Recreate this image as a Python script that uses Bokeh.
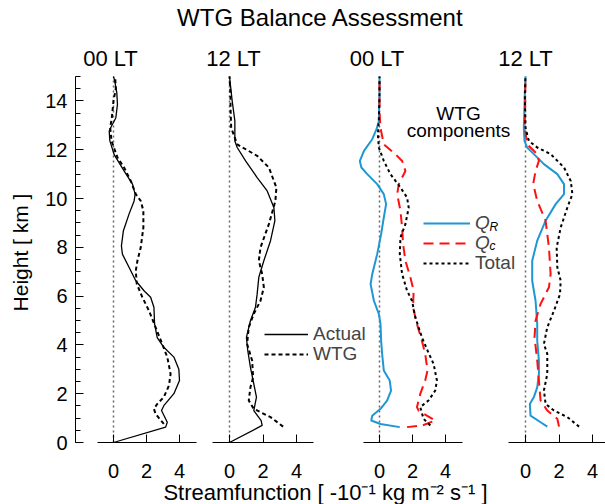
from bokeh.plotting import figure
from bokeh.models import (Range1d, LinearAxis, FixedTicker, SingleIntervalTicker,
                          Label, Legend, LegendItem)
from bokeh.embed import file_html
from bokeh.resources import INLINE

FONT = "Liberation Sans"

# ---------------- data (streamfunction, -10^-1 kg m^-2 s^-1 ; height km) -------------
p1_actual_x = [0, 3.16, 3.26, 2.91, 3.05, 3.66, 4.0, 3.96, 3.66, 3.05, 2.65, 2.49, 2.45, 2.25, 1.85, 1.35,
               0.94, 0.54, 0.48, 0.60, 0.94, 1.25, 1.31, 1.15, 0.64, 0.04, -0.22, -0.26, -0.12, 0.14,
               0.24, 0.2, 0.08, 0]
p1_actual_y = [0, 0.63, 0.83, 1.31, 1.51, 2.0, 2.54, 3.0, 3.5, 3.9, 4.3, 4.86, 5.54, 5.95, 6.22, 6.63,
               7.18, 7.72, 8.06, 8.68, 9.36, 9.9, 10.18, 10.59, 11.13, 11.8, 12.36, 12.77, 12.97, 13.3,
               13.86, 14.34, 14.8, 15]
p1_wtg_x = [3.05, 2.55, 2.45, 2.65, 3.05, 3.36, 3.46, 3.26, 2.95, 2.55, 2.15, 1.75, 1.41, 1.35, 1.45,
            1.65, 1.81, 1.81, 1.65, 1.35, 1.05, 0.64, 0.24, -0.12, -0.2, -0.1, 0, 0.14, 0.1]
p1_wtg_y = [0.76, 1.17, 1.38, 1.58, 1.86, 2.33, 2.81, 3.5, 4.04, 4.72, 5.4, 5.95, 6.5, 7.04, 7.45,
            7.99, 8.81, 9.5, 9.9, 10.18, 10.72, 11.27, 11.68, 12.36, 12.9, 13.32, 14.0, 14.5, 15]

p2_actual_x = [0, 1.95, 1.89, 1.45, 1.61, 1.45, 1.25, 1.09, 1.01, 1.25, 1.55, 1.65, 1.75, 2.05, 2.45,
               2.71, 2.65, 2.25, 1.65, 0.96, 0.46, 0.32, 0.32, 0.16, 0]
p2_actual_y = [0, 0.7, 0.9, 1.31, 1.86, 2.4, 3.08, 3.77, 4.31, 4.99, 5.54, 6.08, 6.77, 7.45, 8.27,
               9.09, 9.63, 10.31, 10.86, 11.54, 12.09, 12.36, 13.18, 14.0, 15]
p2_wtg_x = [3.2, 2.45, 1.45, 1.15, 1.25, 1.41, 1.35, 1.05, 1.15, 1.45, 1.85, 2.05, 1.95, 1.75, 1.85,
            2.35, 2.74, 2.8, 2.35, 1.65, 0.46, 0.1, 0.06, 0.06, 0]
p2_wtg_y = [0.65, 1.04, 1.38, 1.72, 2.26, 2.67, 3.36, 4.04, 4.72, 5.27, 5.81, 6.36, 6.9, 7.45, 7.99,
            8.95, 9.9, 10.45, 11.27, 11.75, 12.22, 12.9, 13.73, 14.27, 15]

p3_qr_x = [1.23, 0.06, -0.5, -0.44, 0.06, 0.46, 0.7, 0.62, 0.26, 0.16, 0.1, 0.06, -0.04, -0.34, -0.54,
           -0.44, -0.14, 0.1, 0.26, 0.4, 0.26, -0.14, -0.74, -1.1, -1.19, -0.94, -0.44, -0.18, -0.04, 0, 0]
p3_qr_y = [0.63, 0.76, 0.9, 1.1, 1.38, 1.72, 2.13, 2.54, 2.95, 3.63, 4.17, 4.86, 5.27, 5.81, 6.49,
           6.9, 7.72, 8.54, 9.22, 9.77, 10.18, 10.59, 11.0, 11.27, 11.54, 11.95, 12.43, 12.84, 13.18, 14.27, 15]
p3_qc_x = [1.67, 2.6, 3.38, 2.87, 2.37, 2.27, 2.47, 2.77, 2.91, 2.77, 2.57, 2.27, 2.03, 2.07, 1.87,
           1.57, 1.43, 1.37, 1.27, 1.07, 1.17, 1.57, 1.37, 0.96, 0.26, 0.06, 0, 0]
p3_qc_y = [0.63, 0.7, 0.9, 1.1, 1.31, 1.45, 1.99, 2.54, 2.95, 3.63, 4.17, 4.86, 5.54, 6.22, 6.77,
           7.45, 8.13, 8.81, 9.5, 10.18, 10.59, 11.13, 11.54, 11.82, 12.22, 12.9, 13.59, 15]
p3_tot_x = [3.08, 2.67, 2.47, 2.97, 3.38, 3.48, 3.28, 2.91, 2.57, 2.17, 1.97, 1.67, 1.37, 1.23, 1.27,
            1.57, 1.77, 1.67, 1.27, 0.66, 0.26, -0.04, -0.1, -0.04, 0, 0]
p3_tot_y = [0.7, 0.97, 1.45, 1.72, 2.13, 2.54, 3.22, 3.77, 4.31, 5.13, 5.81, 6.22, 6.9, 7.72, 8.4,
            8.95, 9.63, 10.04, 10.45, 11.0, 11.54, 12.09, 12.63, 13.18, 14.27, 15]

p4_qr_x = [1.3, 0.9, 0.3, 0.26, 0.5, 0.7, 0.8, 0.8, 0.7, 0.7, 0.6, 0.4, 0.4, 0.7, 1.2, 1.8, 2.3, 2.3,
           1.9, 1.1, 0.5, 0.1, -0.06, -0.1, -0.04, 0]
p4_qr_y = [0.65, 0.83, 1.1, 1.58, 1.86, 2.26, 2.81, 3.36, 4.17, 4.86, 5.81, 6.63, 7.45, 8.27, 9.09,
           9.77, 10.18, 10.59, 11.0, 11.41, 11.82, 12.09, 12.36, 12.9, 14.27, 15]
p4_qc_x = [2.0, 1.9, 1.3, 0.9, 0.8, 0.7, 0.54, 0.6, 0.9, 1.4, 1.5, 1.4, 1.2, 0.7, 0.46, 0.6, 0.8, 0.7,
           0.1, -0.04, 0]
p4_qc_y = [0.65, 0.97, 1.31, 1.72, 2.54, 3.36, 4.31, 4.99, 5.68, 6.36, 6.9, 7.99, 9.09, 9.9, 10.59,
           11.13, 11.54, 11.82, 12.22, 12.9, 15]
p4_tot_x = [3.2, 2.5, 1.7, 1.2, 1.1, 1.3, 1.3, 1.1, 1.3, 1.7, 2.06, 2.1, 1.9, 1.86, 2.1, 2.5, 2.8, 2.7,
            2.3, 1.5, 0.7, 0.2, 0, -0.04, 0]
p4_tot_y = [0.65, 1.04, 1.31, 1.58, 2.13, 2.81, 3.63, 4.04, 4.72, 5.4, 6.08, 6.63, 7.18, 7.99, 8.81,
            9.63, 10.18, 10.72, 11.27, 11.82, 12.09, 12.36, 12.9, 14.27, 15]

height_bounds = (0, 15)
x_bounds = (-1, 5)
panel_titles = ["00 LT", "12 LT", "00 LT", "12 LT"]
x_ticks = [0, 2, 4]
main_title = "WTG Balance Assessment"
x_label = "Streamfunction [ -10\u207b\u00b9 kg m\u207b\u00b2 s\u207b\u00b9 ]"
y_label = "Height [ km ]"

# ---------------- layout constants (page pixels) ----------------
W, H = 605, 504
FL, FR = 75, 605            # frame left/right on page
Y0, PX_KM = 442, 24.4       # page row of height 0, pixels per km
panel_zero = [113, 229, 379, 525]
panel_scale = [16.5, 16.75, 16.5, 16.75]
names = ["p1", "p2", "p3", "p4"]

p = figure(width=W, height=H, x_range=Range1d(0, 1),
           y_range=Range1d((Y0 - H) / PX_KM, Y0 / PX_KM),
           x_axis_location=None, output_backend="svg", toolbar_location=None,
           min_border_left=FL, min_border_right=0, min_border_top=0, min_border_bottom=0)
p.outline_line_color = None
p.grid.grid_line_color = None
p.background_fill_color = "white"
p.border_fill_color = "white"

p.extra_x_ranges = {n: Range1d((FL - z) / s, (FR - z) / s)
                    for n, z, s in zip(names, panel_zero, panel_scale)}

# y axis
ya = p.yaxis[0]
ya.bounds = height_bounds
ya.ticker = SingleIntervalTicker(interval=2, num_minor_ticks=4)
ya.major_tick_in = 8
ya.major_tick_out = 0
ya.minor_tick_in = 5
ya.minor_tick_out = 0
ya.major_label_standoff = 8
ya.major_label_text_font = FONT
ya.major_label_text_font_size = "20px"
ya.major_label_text_color = "black"
ya.axis_line_color = "black"
ya.major_tick_line_color = "black"
ya.minor_tick_line_color = "black"
ya.axis_label = y_label
ya.axis_label_text_font = FONT
ya.axis_label_text_font_size = "21px"
ya.axis_label_text_font_style = "normal"
ya.axis_label_text_color = "black"
ya.axis_label_standoff = 10

# x axes, one per panel, plus dotted zero line
for n in names:
    ax = LinearAxis(x_range_name=n, fixed_location=0, bounds=x_bounds,
                    ticker=FixedTicker(ticks=x_ticks, minor_ticks=[]))
    ax.major_tick_in = 8
    ax.major_tick_out = 0
    ax.minor_tick_in = 0
    ax.minor_tick_out = 0
    ax.major_label_standoff = 21
    ax.major_label_text_font = FONT
    ax.major_label_text_font_size = "20px"
    ax.major_label_text_color = "black"
    ax.axis_line_color = "black"
    ax.major_tick_line_color = "black"
    p.add_layout(ax, "below")
    p.segment(x0=[0], y0=[height_bounds[0]], x1=[0], y1=[height_bounds[1]], x_range_name=n,
              line_color="#666666", line_dash="2 3", line_width=1.5)

# panel 1 & 2
r1a = p.line(p1_actual_x, p1_actual_y, x_range_name="p1", line_color="black", line_width=1.3)
r1w = p.line(p1_wtg_x, p1_wtg_y, x_range_name="p1", line_color="black", line_width=2, line_dash="4 3")
r2a = p.line(p2_actual_x, p2_actual_y, x_range_name="p2", line_color="black", line_width=1.3)
r2w = p.line(p2_wtg_x, p2_wtg_y, x_range_name="p2", line_color="black", line_width=2, line_dash="4 3")

BLUE = "#1e98d4"
RED = "#ff1010"
r3r = p.line(p3_qr_x, p3_qr_y, x_range_name="p3", line_color=BLUE, line_width=2)
r3c = p.line(p3_qc_x, p3_qc_y, x_range_name="p3", line_color=RED, line_width=2, line_dash="10 6")
r3t = p.line(p3_tot_x, p3_tot_y, x_range_name="p3", line_color="black", line_width=2, line_dash="3 3")
r4r = p.line(p4_qr_x, p4_qr_y, x_range_name="p4", line_color=BLUE, line_width=2)
r4c = p.line(p4_qc_x, p4_qc_y, x_range_name="p4", line_color=RED, line_width=2, line_dash="10 6")
r4t = p.line(p4_tot_x, p4_tot_y, x_range_name="p4", line_color="black", line_width=2, line_dash="3 3")


def legend_row(label, renderer, left, center_y, gw, style="normal"):
    # one-item legend whose row is centred on page row center_y
    lg = Legend(items=[LegendItem(label=label, renderers=[renderer])],
                location=(left - FL, H - (center_y + 11)), orientation="vertical",
                padding=0, margin=0, spacing=0, glyph_width=gw, glyph_height=20,
                label_height=20, label_standoff=5,
                label_text_font=FONT, label_text_font_size="19px", label_text_font_style=style,
                border_line_color=None, background_fill_alpha=0)
    p.add_layout(lg)


legend_row("Actual", r2a, 264, 334, 44)
legend_row("WTG", r2w, 264, 354, 44)
legend_row("Q", r3r, 423, 223, 47, "italic")
legend_row("Q", r3c, 423, 243, 47, "italic")
legend_row("Total", r3t, 423, 263, 47)


def lab(text, px, py, size, align="center", style="normal"):
    # px, py: page position of the text anchor
    p.add_layout(Label(x=px - FL, y=H - py, x_units="screen", y_units="screen", text=text,
                       text_font=FONT, text_font_size=size, text_align=align,
                       text_baseline="alphabetic", text_font_style=style, text_color="black"))


lab("R", 489, 226, "12px", "left", "italic")
lab("c", 489, 245, "12px", "left", "italic")
lab(main_title, 320, 17, "24px")
for t, cx in zip(panel_titles, [110, 233, 376.5, 525]):
    lab(t, cx, 57.5, "22px")
lab(x_label, 325, 492, "22px")
lab("WTG", 458, 113, "19px")
lab("components", 458, 130, "19px")

open("out.html", "w").write(file_html(p, INLINE))
